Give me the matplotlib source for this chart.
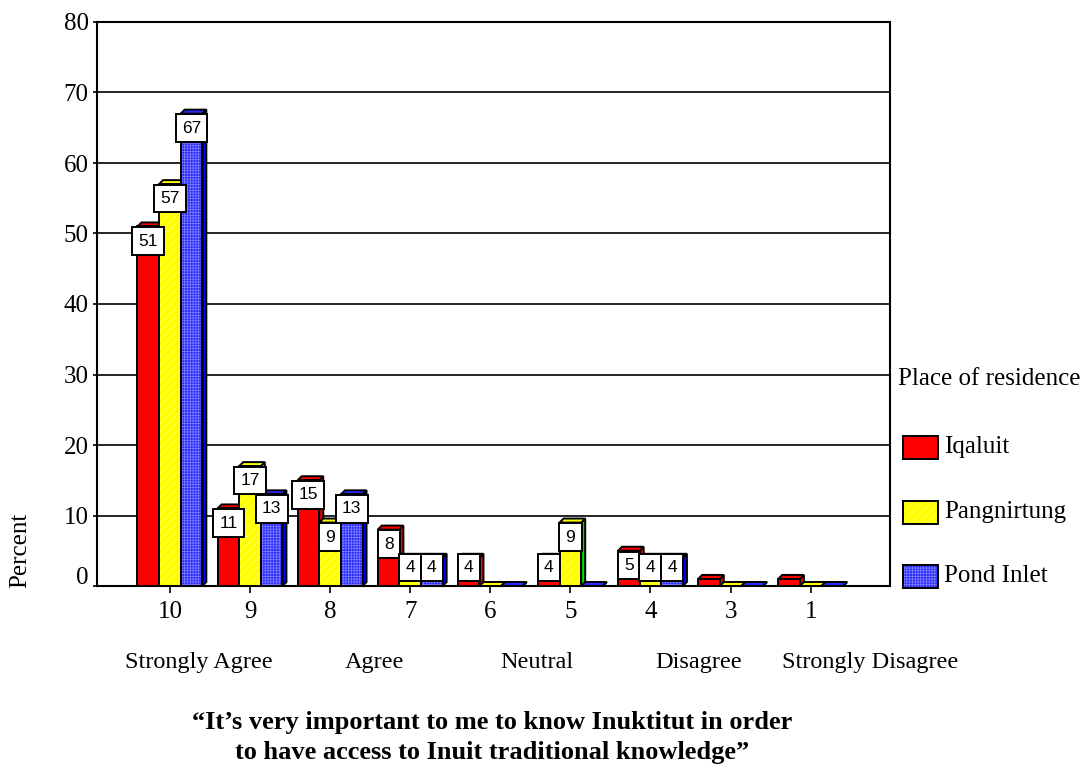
import matplotlib
matplotlib.use("Agg")
import matplotlib.pyplot as plt
from matplotlib.patches import Polygon, Rectangle
from matplotlib.transforms import ScaledTranslation

# Survey responses (percent) by place of residence
categories = ["10", "9", "8", "7", "6", "5", "4", "3", "1"]
series_names = ["Iqaluit", "Pangnirtung", "Pond Inlet"]
iqaluit = [51, 11, 15, 8, 4, 4, 5, 1, 1]
pangnirtung = [57, 17, 9, 4, 0, 9, 4, 0, 0]
pond_inlet = [67, 13, 13, 4, 0, 0, 4, 0, 0]
y_ticks = [0, 10, 20, 30, 40, 50, 60, 70, 80]
scale_labels = ["Strongly Agree", "Agree", "Neutral", "Disagree", "Strongly Disagree"]
title_lines = ["\u201cIt\u2019s very important to me to know Inuktitut in order",
               "to have access to Inuit traditional knowledge\u201d"]
legend_title = "Place of residence"
y_label = "Percent"

SERIF = "Liberation Serif"
SANS = "Liberation Sans"

# series styling: front colour, side colour, hatch, hatch colour
styles = [
    dict(face="#ff0000", side="#ff0000", hatch=None, hcol=None),
    dict(face="#ffff00", side="#ffff00", hatch="////", hcol="#ffff80"),
    dict(face="#2a2aff", side="#0000ff", hatch="++++++", hcol="#8080ff"),
]
# the Pangnirtung bar at "5" has a green side face
side_override = {(1, 5): "#00e000"}

W, H = 1088, 765
fig = plt.figure(figsize=(W / 100, H / 100), dpi=100)
ax = fig.add_axes([97 / W, 1 - 586 / H, (890 - 97) / W, (586 - 22) / H])
ax.set_xlim(-0.91, 8.99)
ax.set_ylim(0, 80)

plt.rcParams["hatch.linewidth"] = 0.5

bar_w = 0.27
dx, dy = 0.05, 0.57
lw = 1.4
values = [iqaluit, pangnirtung, pond_inlet]


def bar3d(xc, h, face, side, hatch, hcol, z):
    x0, x1 = xc - bar_w / 2, xc + bar_w / 2
    ax.add_patch(Polygon([(x1, 0), (x1 + dx, dy), (x1 + dx, h + dy), (x1, h)],
                         closed=True, fc=side, ec="black", lw=lw, zorder=z, clip_on=False))
    ax.add_patch(Polygon([(x0, h), (x0 + dx, h + dy), (x1 + dx, h + dy), (x1, h)],
                         closed=True, fc=face, ec="black", lw=lw, zorder=z, clip_on=False))
    ax.add_patch(Rectangle((x0, 0), bar_w, h, fc=face, ec="none", zorder=z, clip_on=False))
    if hatch:
        ax.add_patch(Rectangle((x0, 0), bar_w, h, fill=False, ec=hcol, lw=0,
                               hatch=hatch, zorder=z, clip_on=False))
    ax.add_patch(Rectangle((x0, 0), bar_w, h, fill=False, ec="black", lw=lw,
                           zorder=z, clip_on=False))


for s, vals in enumerate(values):
    st = styles[s]
    for i, v in enumerate(vals):
        xc = i + (s - 1) * bar_w
        side = side_override.get((s, i), st["side"])
        bar3d(xc, v, st["face"], side, st["hatch"], st["hcol"], 3 + s)

# value labels
for s, vals in enumerate(values):
    for i, v in enumerate(vals):
        if v < 2:
            continue
        xc = i + (s - 1) * bar_w
        ax.text(xc, max(v - 1.0, 3.7), str(v), ha="center", va="top",
                fontsize=12.5, family=SANS, zorder=20,
                bbox=dict(boxstyle="square,pad=0.36", fc="white", ec="black", lw=lw))

# axes styling
ax.set_yticks(y_ticks)
ax.set_xticks(range(len(categories)))
ax.set_xticklabels(categories)
ax.yaxis.grid(True, color="black", lw=1.2)
ax.set_axisbelow(True)
for sp in ax.spines.values():
    sp.set_linewidth(1.5)
    sp.set_zorder(2)
ax.tick_params(axis="y", labelsize=18, length=3, width=1.2, pad=3)
ax.tick_params(axis="x", labelsize=18, length=5, width=1.2, pad=6)
for lab in ax.get_xticklabels() + ax.get_yticklabels():
    lab.set_family(SERIF)
# the zero label sits slightly above the baseline
zero_lab = ax.get_yticklabels()[0]
zero_lab.set_transform(zero_lab.get_transform() + ScaledTranslation(0, 0.1, fig.dpi_scale_trans))

# agreement scale labels under the category numbers
scale_x = [0.36, 2.56, 4.58, 6.6, 8.74]
for x, t in zip(scale_x, scale_labels):
    ax.text(x, -10.8, t, ha="center", va="center", fontsize=17.5, family=SERIF, clip_on=False)

fig.text(20 / W, 1 - 550 / H, y_label, rotation=90, ha="center", va="center",
         fontsize=18, family=SERIF)

# title below the chart
fig.text(492 / W, 1 - 722 / H, title_lines[0], ha="center", va="center",
         fontsize=19, fontweight="bold", family=SERIF)
fig.text(492 / W, 1 - 752 / H, title_lines[1], ha="center", va="center",
         fontsize=19, fontweight="bold", family=SERIF)

# legend
fig.text(898 / W, 1 - 379 / H, legend_title, ha="left", va="center", fontsize=18, family=SERIF)
leg_y = [447, 512, 576]
for s, name in enumerate(series_names):
    st = styles[s]
    yc = leg_y[s]
    box = (903 / W, 1 - (yc + 11.5) / H)
    fig.add_artist(Rectangle(box, 35 / W, 23 / H, transform=fig.transFigure,
                             fc=st["face"], ec="none"))
    if st["hatch"]:
        fig.add_artist(Rectangle(box, 35 / W, 23 / H, transform=fig.transFigure,
                                 fill=False, ec=st["hcol"], lw=0, hatch=st["hatch"]))
    fig.add_artist(Rectangle(box, 35 / W, 23 / H, transform=fig.transFigure,
                             fill=False, ec="black", lw=1.4))
    fig.text(944 / W, 1 - yc / H, name, ha="left", va="center", fontsize=18, family=SERIF)

fig.savefig("out.png", dpi=100, facecolor="white")
